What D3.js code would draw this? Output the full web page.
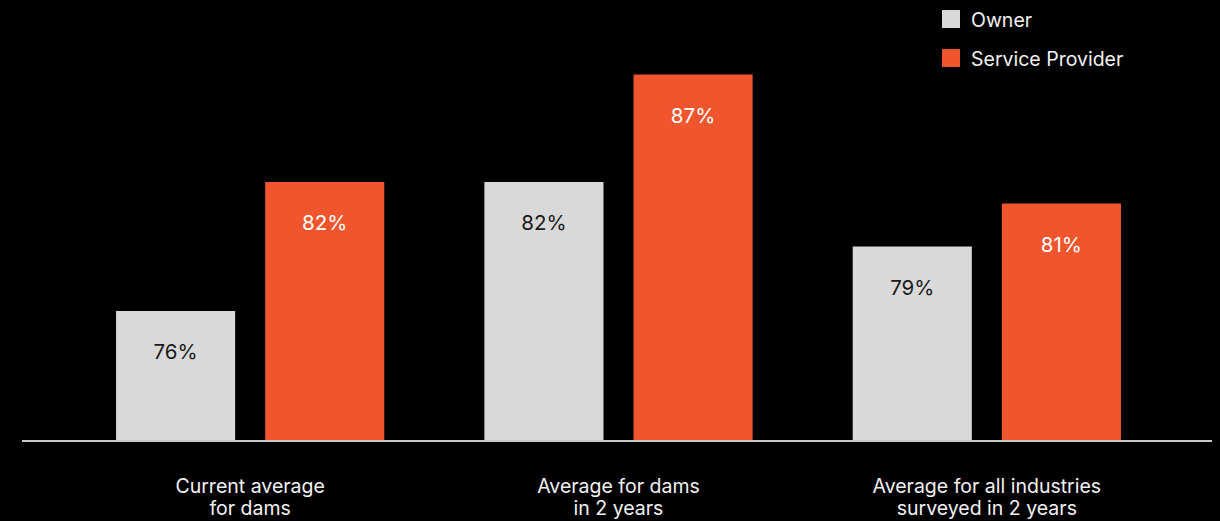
<!DOCTYPE html>
<html>
<head>
<meta charset="utf-8">
<script src="https://cdn.jsdelivr.net/npm/d3@7"></script>
<style>
  html, body { margin: 0; padding: 0; background: #000; }
  svg { display: block; font-family: Inter, "Noto Sans", sans-serif; }
</style>
</head>
<body>
<svg id="chart" width="1220" height="521"></svg>
<script>
const categories = [
  ["Current average", "for dams"],
  ["Average for dams", "in 2 years"],
  ["Average for all industries", "surveyed in 2 years"]
];
const seriesNames = ["Owner", "Service Provider"];
const ownerValues = [76, 82, 79];
const providerValues = [82, 87, 81];
const seriesColors = ["#d9d9d9", "#f0552d"];
const labelColors = ["#1a1a1a", "#ffffff"];

const svg = d3.select("#chart");
const W = 1220, H = 521;
svg.append("rect").attr("width", W).attr("height", H).attr("fill", "#000");

const catKeys = categories.map((c, i) => i);
const x0 = d3.scaleBand().domain(catKeys).range([66, 1171]).paddingInner(0).paddingOuter(0);
const x1 = d3.scaleBand().domain(seriesNames).range([0, x0.bandwidth()])
  .paddingInner(0.2013).paddingOuter(0.3356);
const y = d3.scaleLinear().domain([70, 90]).range([440, 10]);

const data = catKeys.map(i => ({
  cat: i,
  values: [
    { key: seriesNames[0], v: ownerValues[i], s: 0 },
    { key: seriesNames[1], v: providerValues[i], s: 1 }
  ]
}));

const groups = svg.append("g").selectAll("g").data(data).join("g")
  .attr("transform", d => `translate(${x0(d.cat)},0)`);

groups.selectAll("rect").data(d => d.values).join("rect")
  .attr("x", d => x1(d.key))
  .attr("y", d => y(d.v))
  .attr("width", x1.bandwidth())
  .attr("height", d => y(70) - y(d.v))
  .attr("fill", d => seriesColors[d.s]);

groups.selectAll("text.val").data(d => d.values).join("text")
  .attr("class", "val")
  .attr("x", d => x1(d.key) + x1.bandwidth() / 2)
  .attr("y", d => y(d.v) + 48)
  .attr("text-anchor", "middle")
  .attr("font-size", 20.5)
  .attr("fill", d => labelColors[d.s])
  .text(d => d.v + "%");

// baseline axis
const xAxis = d3.axisBottom(x0).tickSize(0).tickFormat("");
const axisG = svg.append("g").attr("transform", `translate(0,${y(70) + 1})`).call(xAxis);
axisG.select(".domain").remove();
axisG.append("line").attr("x1", 22).attr("x2", 1212).attr("y1", 0).attr("y2", 0)
  .attr("stroke", "#c8c8c8").attr("stroke-width", 2);

// category labels
const catLabels = svg.append("g").selectAll("text").data(catKeys).join("text")
  .attr("x", d => x0(d) + x0.bandwidth() / 2)
  .attr("y", 493)
  .attr("text-anchor", "middle")
  .attr("font-size", 19.5)
  .attr("fill", "#f2f2f2");
catLabels.selectAll("tspan").data(d => categories[d]).join("tspan")
  .attr("x", function() { return d3.select(this.parentNode).attr("x"); })
  .attr("dy", (d, i) => i === 0 ? 0 : 22)
  .text(d => d);

// legend
const legend = svg.append("g").attr("transform", "translate(942,10)");
const li = legend.selectAll("g").data(seriesNames).join("g")
  .attr("transform", (d, i) => `translate(0,${i * 39})`);
li.append("rect").attr("width", 18).attr("height", 18).attr("fill", (d, i) => seriesColors[i]);
li.append("text").attr("x", 29).attr("y", 17).attr("font-size", 19.5).attr("fill", "#f2f2f2").text(d => d);
</script>
</body>
</html>
